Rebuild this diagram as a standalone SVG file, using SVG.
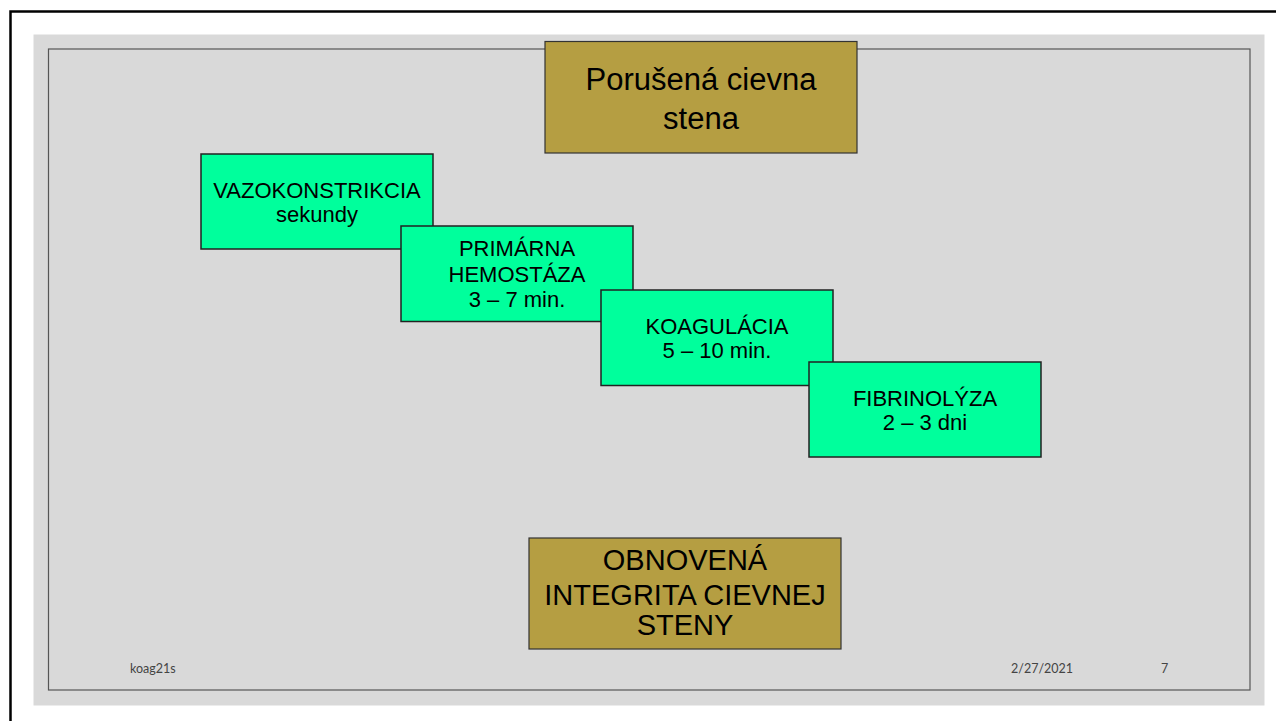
<svg xmlns="http://www.w3.org/2000/svg" width="1276" height="721" viewBox="0 0 1276 721">
  <style>
    .gold { fill: #B59E42; stroke: #333333; stroke-width: 1.2; }
    .green { fill: #00FF9C; stroke: #222222; stroke-width: 1.5; }
    .t { font-family: "Liberation Sans", "DejaVu Sans", sans-serif; fill: #000000; text-anchor: middle; }
    .big { font-size: 31px; }
    .mid { font-size: 29px; }
    .sm { font-size: 22px; }
    .foot { font-family: "Lato", "Liberation Sans", sans-serif; font-size: 12.5px; fill: #444444; }
  </style>
  <rect x="0" y="0" width="1276" height="721" fill="#FFFFFF"/>
  <path d="M10.5 721 V11.5 H1276" fill="none" stroke="#000000" stroke-width="2.5"/>
  <rect x="33.5" y="34.5" width="1231" height="671" fill="#D9D9D9"/>
  <rect x="48.5" y="49" width="1201.5" height="641" fill="none" stroke="#555555" stroke-width="1.2"/>

  <g id="connectors"></g>

  <g id="porusena">
    <rect class="gold" x="545" y="41.5" width="312" height="111.5"/>
    <text class="t big" x="701" y="90">Porušená cievna</text>
    <text class="t big" x="701" y="129">stena</text>
  </g>

  <g id="vazokonstrikcia">
    <rect class="green" x="201" y="154" width="232" height="95"/>
    <text class="t sm" x="317" y="198">VAZOKONSTRIKCIA</text>
    <text class="t sm" x="317" y="222">sekundy</text>
  </g>

  <g id="primarna">
    <rect class="green" x="401" y="226" width="232" height="95.5"/>
    <text class="t sm" x="517" y="256">PRIMÁRNA</text>
    <text class="t sm" x="517" y="282">HEMOSTÁZA</text>
    <text class="t sm" x="517" y="307">3 – 7 min.</text>
  </g>

  <g id="koagulacia">
    <rect class="green" x="601" y="290" width="232" height="95.5"/>
    <text class="t sm" x="717" y="334">KOAGULÁCIA</text>
    <text class="t sm" x="717" y="358">5 – 10 min.</text>
  </g>

  <g id="fibrinolyza">
    <rect class="green" x="809" y="362" width="232" height="95"/>
    <text class="t sm" x="925" y="406">FIBRINOLÝZA</text>
    <text class="t sm" x="925" y="430">2 – 3 dni</text>
  </g>

  <g id="obnovena">
    <rect class="gold" x="529" y="538" width="312" height="111"/>
    <text class="t mid" x="685" y="570">OBNOVENÁ</text>
    <text class="t mid" x="685" y="605">INTEGRITA CIEVNEJ</text>
    <text class="t mid" x="685" y="635">STENY</text>
  </g>

  <g id="footer">
    <text class="foot" x="130" y="673">koag21s</text>
    <text class="foot" x="1011" y="673">2/27/2021</text>
    <text class="foot" x="1161" y="673">7</text>
  </g>
</svg>
